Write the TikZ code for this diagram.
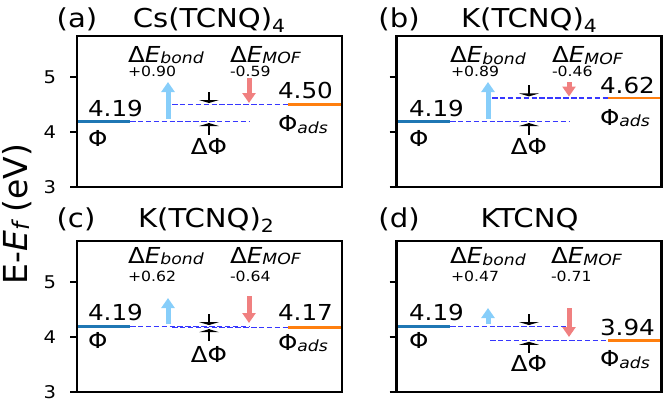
\documentclass[tikz,border=0pt]{standalone}
\usepackage{fontspec}
\setmainfont{DejaVu Sans}
\usetikzlibrary{arrows.meta}
\definecolor{phic}{HTML}{1F77B4}
\definecolor{adsc}{HTML}{FF7F0E}
\definecolor{dashc}{RGB}{55,55,255}
\definecolor{bondc}{HTML}{87CEFA}
\definecolor{mofc}{HTML}{F08080}
\newcommand\hs[1]{\scalebox{1.12}[1]{#1}}
\newcommand\isub[1]{\raisebox{-0.08em}{\scalebox{0.7}{\itshape #1}}}
\newcommand\nsub[1]{\raisebox{-0.2em}{\scalebox{0.7}{#1}}}
\newcommand\fmain{\fontsize{22}{26}\selectfont}
\newcommand\fval{\fontsize{14}{17}\selectfont}
\newcommand\ftitle{\fontsize{26}{30}\selectfont}
\newcommand\ftick{\fontsize{17.5}{20}\selectfont}
\newcommand\flab{\fontsize{33}{40}\selectfont}
\newcommand\mkup[2]{%
  \fill (#1-10,#2-4.5) -- (#1+10,#2-4.5) -- (#1,#2-1.5) -- cycle;
  \draw[stemline] (#1,#2-1.5) -- (#1,#2-13);}
\newcommand\mkdn[2]{%
  \fill (#1-10,#2+4.5) -- (#1+10,#2+4.5) -- (#1,#2+1.5) -- cycle;
  \draw[stemline] (#1,#2+1.5) -- (#1,#2+13);}
\begin{document}
\begin{tikzpicture}[x=1pt,y=-1pt,
  txt/.style={inner sep=0pt, outer sep=0pt},
  lbl/.style={txt, anchor=base west, font=\fmain},
  lblc/.style={txt, anchor=base, font=\fmain},
  val/.style={txt, anchor=base west, font=\fval},
  ttl/.style={txt, anchor=base, font=\ftitle},
  tlab/.style={txt, anchor=east, font=\ftick},
  frame/.style={draw=black, line width=2.4pt},
  tickline/.style={draw=black, line width=1.6pt},
  philine/.style={draw=phic, line width=2.4pt},
  adsline/.style={draw=adsc, line width=2.4pt},
  dline/.style={draw=dashc, line width=1.6pt, dash pattern=on 5.5pt off 2.4pt},
  bondarr/.style={draw=bondc, line width=5pt, -{Triangle[width=13pt,length=10pt]}},
  mofarr/.style={draw=mofc, line width=5pt, -{Triangle[width=13pt,length=10pt]}},
  stemline/.style={draw=black, line width=1.3pt}]
\useasboundingbox (0,0) rectangle (666,402);

% y label
\node[txt, rotate=90, font=\flab] (ylab) at (17,214) {E-\textit{E}\isub{f} (eV)};

% ===== Panel (a)
\draw[philine] (77,121.55) -- (130,121.55);
\draw[dline] (130,121.55) -- (250,121.55);
\draw[dline] (172,104.5) -- (288,104.5);
\draw[adsline] (288,104.5) -- (342,104.5);
\draw[bondarr] (168,118.5) -- (168,82);
\draw[mofarr] (249,78) -- (249,103);
\mkup{209}{104.5}
\mkdn{209}{121.55}
\draw[frame] (77,36) rectangle (342,187);
\foreach \yy/\tt in {77/5,132/4,187/3}{
  \draw[tickline] (70,\yy) -- (77,\yy);
  \node[tlab] at (56,\yy) {\hs{\tt}};}
\node[ttl] (pa) at (77,27) {\hs{(a)}};
\node[ttl] (ta) at (209,27) {\hs{Cs(TCNQ)\nsub{4}}};
\node[lbl] (a1) at (88,116) {\hs{4.19}};
\node[lbl] (a2) at (88,146.5) {\hs{Φ}};
\node[lbl] (a3) at (278,98.5) {\hs{4.50}};
\node[lbl] (a4) at (278,131.5) {\hs{Φ\isub{ads}}};
\node[lblc] (a5) at (209,154) {\hs{ΔΦ}};
\node[lbl] (a6) at (128,62) {\hs{Δ\textit{E}\isub{bond}}};
\node[val] (a7) at (128,76.5) {\hs{+0.90}};
\node[lbl] (a8) at (230,62) {\hs{Δ\textit{E}\isub{MOF}}};
\node[val] (a9) at (230,76.5) {\hs{-0.59}};

% ===== Panel (b)
\draw[philine] (396.5,121.55) -- (450,121.55);
\draw[dline] (450,121.55) -- (570,121.55);
\draw[dline] (492,97.9) -- (608,97.9);
\draw[adsline] (608,97.9) -- (661.5,97.9);
\draw[bondarr] (488,118.5) -- (488,82);
\draw[mofarr] (569,82) -- (569,96.5);
\mkup{529}{97.9}
\mkdn{529}{121.55}
\draw[frame] (396.5,36) rectangle (661.5,187);
\foreach \yy in {77,132,187}{
  \draw[tickline] (389.5,\yy) -- (396.5,\yy);}
\node[ttl] (pb) at (399,27) {\hs{(b)}};
\node[ttl] (tb) at (529,27) {\hs{K(TCNQ)\nsub{4}}};
\node[lbl] (b1) at (409,116.5) {\hs{4.19}};
\node[lbl] (b2) at (409,146.5) {\hs{Φ}};
\node[lbl] (b3) at (600,93) {\hs{4.62}};
\node[lbl] (b4) at (600,125) {\hs{Φ\isub{ads}}};
\node[lblc] (b5) at (529,154) {\hs{ΔΦ}};
\node[lbl] (b6) at (450,62.3) {\hs{Δ\textit{E}\isub{bond}}};
\node[val] (b7) at (451,76.7) {\hs{+0.89}};
\node[lbl] (b8) at (552,62.3) {\hs{Δ\textit{E}\isub{MOF}}};
\node[val] (b9) at (552,76.7) {\hs{-0.46}};

% ===== Panel (c)
\draw[philine] (77,326.55) -- (130,326.55);
\draw[dline] (130,326.55) -- (250,326.55);
\draw[dline] (172,327.65) -- (288,327.65);
\draw[adsline] (288,327.65) -- (342,327.65);
\draw[bondarr] (168,323.5) -- (168,298);
\draw[mofarr] (249,296) -- (249,323);
\mkup{209}{326.55}
\mkdn{209}{327.65}
\draw[frame] (77,241) rectangle (342,392);
\foreach \yy/\tt in {282/5,337/4,392/3}{
  \draw[tickline] (70,\yy) -- (77,\yy);
  \node[tlab] at (56,\yy) {\hs{\tt}};}
\node[ttl] (pc) at (76,227) {\hs{(c)}};
\node[ttl] (tc) at (206,227) {\hs{K(TCNQ)\nsub{2}}};
\node[lbl] (c1) at (88,320.5) {\hs{4.19}};
\node[lbl] (c2) at (88,348.5) {\hs{Φ}};
\node[lbl] (c3) at (278,320.5) {\hs{4.17}};
\node[lbl] (c4) at (278,350) {\hs{Φ\isub{ads}}};
\node[lblc] (c5) at (209,362) {\hs{ΔΦ}};
\node[lbl] (c6) at (128,263) {\hs{Δ\textit{E}\isub{bond}}};
\node[val] (c7) at (128,281.5) {\hs{+0.62}};
\node[lbl] (c8) at (230,263) {\hs{Δ\textit{E}\isub{MOF}}};
\node[val] (c9) at (230,281.5) {\hs{-0.64}};

% ===== Panel (d)
\draw[philine] (396.5,326.55) -- (450,326.55);
\draw[dline] (450,326.55) -- (570,326.55);
\draw[dline] (490,340.3) -- (608,340.3);
\draw[adsline] (608,340.3) -- (661.5,340.3);
\draw[bondarr] (488,323.5) -- (488,308);
\draw[mofarr] (569,308) -- (569,337);
\mkup{529}{326.55}
\mkdn{529}{340.3}
\draw[frame] (396.5,241) rectangle (661.5,392);
\foreach \yy in {282,337,392}{
  \draw[tickline] (389.5,\yy) -- (396.5,\yy);}
\node[ttl] (pd) at (399,227) {\hs{(d)}};
\node[ttl] (td) at (529.5,227) {\hs{KTCNQ}};
\node[lbl] (d1) at (409,320.5) {\hs{4.19}};
\node[lbl] (d2) at (409,348.5) {\hs{Φ}};
\node[lbl] (d3) at (600,335) {\hs{3.94}};
\node[lbl] (d4) at (600,366.5) {\hs{Φ\isub{ads}}};
\node[lblc] (d5) at (529,371.5) {\hs{ΔΦ}};
\node[lbl] (d6) at (450,263.5) {\hs{Δ\textit{E}\isub{bond}}};
\node[val] (d7) at (451,281) {\hs{+0.47}};
\node[lbl] (d8) at (551,263.5) {\hs{Δ\textit{E}\isub{MOF}}};
\node[val] (d9) at (551,281) {\hs{-0.71}};
\end{tikzpicture}
\end{document}
